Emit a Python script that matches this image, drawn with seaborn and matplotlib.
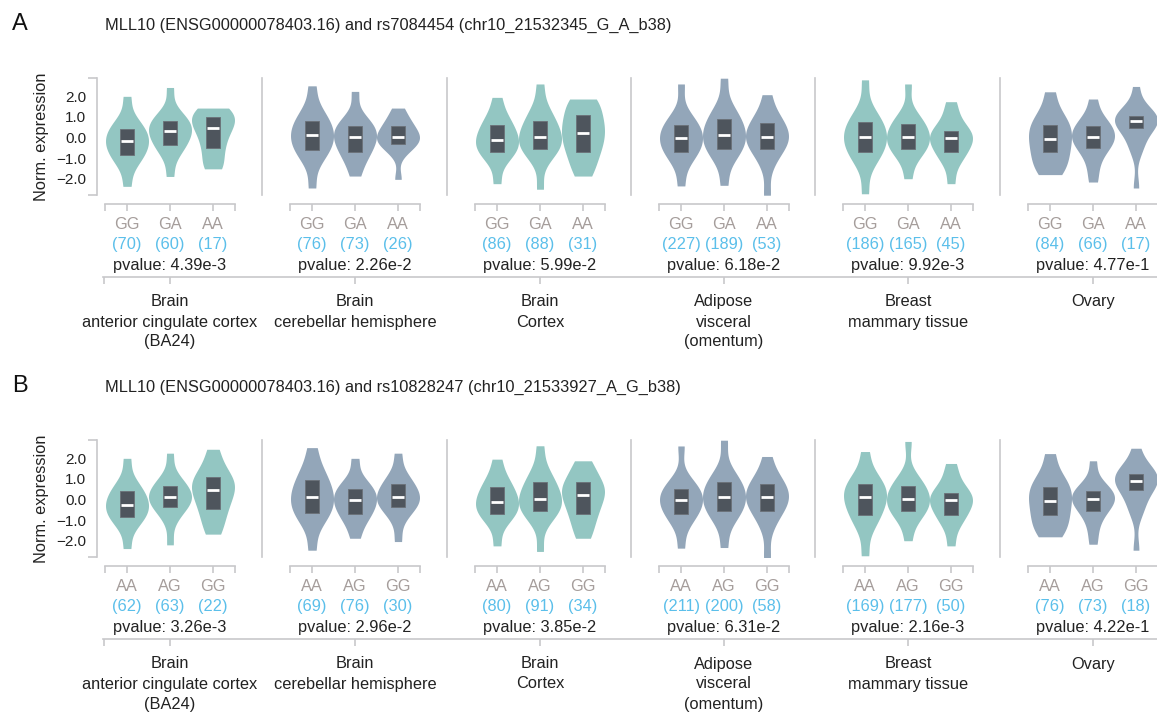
import numpy as np
import pandas as pd
import matplotlib
matplotlib.use("Agg")
import matplotlib.pyplot as plt
import matplotlib.transforms as mtransforms
import seaborn as sns

# ---------------- data ----------------
tissues = ["Brain\nanterior cingulate cortex\n(BA24)", "Brain\ncerebellar hemisphere",
           "Brain\nCortex", "Adipose\nvisceral\n(omentum)", "Breast\nmammary tissue", "Ovary"]

title_A = "MLL10 (ENSG00000078403.16) and rs7084454 (chr10_21532345_G_A_b38)"
title_B = "MLL10 (ENSG00000078403.16) and rs10828247 (chr10_21533927_A_G_b38)"
genotypes_A = ["GG", "GA", "AA"]
genotypes_B = ["AA", "AG", "GG"]

counts_A = [[70, 60, 17], [76, 73, 26], [86, 88, 31], [227, 189, 53], [186, 165, 45], [84, 66, 17]]
counts_B = [[62, 63, 22], [69, 76, 30], [80, 91, 34], [211, 200, 58], [169, 177, 50], [76, 73, 18]]
pvalues_A = ["4.39e-3", "2.26e-2", "5.99e-2", "6.18e-2", "9.92e-3", "4.77e-1"]
pvalues_B = ["3.26e-3", "2.96e-2", "3.85e-2", "6.31e-2", "2.16e-3", "4.22e-1"]

# box statistics (q1, median, q3) per tissue x genotype
q1_A = [[-0.84, -0.35, -0.53], [-0.60, -0.68, -0.32], [-0.68, -0.55, -0.68],
        [-0.68, -0.55, -0.55], [-0.71, -0.55, -0.71], [-0.71, -0.52, 0.47]]
med_A = [[-0.19, 0.31, 0.47], [0.10, 0.02, 0.03], [-0.11, 0.02, 0.23],
         [-0.03, 0.13, 0.02], [0.02, 0.02, -0.03], [-0.07, 0.02, 0.82]]
q3_A = [[0.42, 0.82, 1.01], [0.82, 0.58, 0.58], [0.61, 0.82, 1.10],
        [0.61, 0.90, 0.69], [0.74, 0.66, 0.34], [0.61, 0.58, 1.06]]

q1_B = [[-0.84, -0.34, -0.47], [-0.63, -0.68, -0.34], [-0.68, -0.55, -0.68],
        [-0.68, -0.55, -0.55], [-0.74, -0.55, -0.74], [-0.74, -0.55, 0.47]]
med_B = [[-0.26, 0.10, 0.47], [0.10, -0.03, 0.10], [-0.11, 0.02, 0.23],
         [-0.03, 0.13, 0.10], [0.10, 0.02, -0.03], [-0.06, 0.02, 0.91]]
q3_B = [[0.39, 0.66, 1.10], [0.95, 0.53, 0.74], [0.62, 0.83, 0.83],
        [0.53, 0.83, 0.74], [0.74, 0.66, 0.34], [0.62, 0.42, 1.26]]

# representative expression values (approximate quantiles) for each violin
exprA_acc = [[-2.37, -1.35, -1.03, -0.79, -0.57, -0.38, -0.19, -0.01, 0.17, 0.37, 0.60, 0.90, 2.00],
             [-1.89, -0.86, -0.54, -0.30, -0.08, 0.12, 0.31, 0.46, 0.61, 0.78, 0.97, 1.22, 2.43],
             [-1.52, -1.31, -0.82, -0.45, -0.12, 0.18, 0.47, 0.63, 0.79, 0.97, 1.17, 1.38, 1.43]]
exprA_cer = [[-2.45, -1.15, -0.80, -0.54, -0.31, -0.10, 0.10, 0.31, 0.52, 0.76, 1.03, 1.38, 2.51],
             [-1.87, -1.23, -0.88, -0.62, -0.39, -0.18, 0.02, 0.18, 0.35, 0.54, 0.74, 1.02, 2.24],
             [-2.03, -0.75, -0.45, -0.30, -0.18, -0.07, 0.03, 0.19, 0.35, 0.54, 0.74, 1.01, 1.43]]
exprA_ctx = [[-2.24, -1.12, -0.85, -0.63, -0.45, -0.28, -0.11, 0.10, 0.31, 0.55, 0.82, 1.17, 1.95],
             [-2.51, -1.00, -0.72, -0.50, -0.32, -0.15, 0.02, 0.25, 0.49, 0.76, 1.05, 1.44, 2.60],
             [-1.87, -1.39, -0.94, -0.61, -0.31, -0.03, 0.23, 0.48, 0.74, 1.03, 1.35, 1.78, 1.87]]
exprA_adi = [[-2.35, -1.19, -0.87, -0.63, -0.41, -0.22, -0.03, 0.16, 0.35, 0.56, 0.80, 1.11, 2.60],
             [-2.32, -1.08, -0.75, -0.50, -0.27, -0.07, 0.13, 0.35, 0.58, 0.84, 1.12, 1.50, 2.88],
             [-2.80, -1.40, -0.80, -0.52, -0.32, -0.15, 0.02, 0.21, 0.42, 0.64, 0.88, 1.21, 2.08]]
exprA_bre = [[-2.73, -1.28, -0.92, -0.65, -0.41, -0.19, 0.02, 0.23, 0.44, 0.68, 0.95, 1.30, 2.80],
             [-2.00, -1.00, -0.72, -0.50, -0.32, -0.15, 0.02, 0.21, 0.40, 0.61, 0.85, 1.16, 2.60],
             [-2.24, -1.24, -0.91, -0.66, -0.43, -0.23, -0.03, 0.10, 0.22, 0.36, 0.62, 1.15, 1.74]]
exprA_ova = [[-1.80, -1.55, -1.20, -0.90, -0.62, -0.35, -0.07, 0.18, 0.40, 0.64, 0.92, 1.30, 2.22],
             [-2.16, -1.40, -0.80, -0.50, -0.30, -0.14, 0.02, 0.18, 0.35, 0.54, 0.74, 1.02, 1.87],
             [-2.45, -0.55, -0.40, 0.30, 0.50, 0.65, 0.82, 0.90, 0.98, 1.06, 1.15, 1.35, 2.48]]

exprB_acc = [[-2.38, -1.29, -1.01, -0.79, -0.60, -0.43, -0.26, -0.07, 0.12, 0.34, 0.58, 0.90, 2.00],
             [-2.20, -1.00, -0.55, -0.32, -0.16, -0.03, 0.10, 0.26, 0.43, 0.62, 0.82, 1.10, 2.25],
             [-1.68, -1.20, -0.74, -0.39, -0.08, 0.20, 0.47, 0.65, 0.84, 1.05, 1.28, 1.75, 2.44]]
exprB_cer = [[-2.46, -1.20, -0.84, -0.57, -0.33, -0.11, 0.10, 0.35, 0.60, 0.88, 1.20, 1.61, 2.52],
             [-1.88, -1.19, -0.87, -0.63, -0.41, -0.22, -0.03, 0.13, 0.30, 0.49, 0.69, 0.97, 2.00],
             [-2.04, -0.95, -0.52, -0.32, -0.16, -0.03, 0.10, 0.29, 0.48, 0.69, 0.93, 1.24, 2.25]]
exprB_ctx = [[-2.25, -1.12, -0.85, -0.63, -0.45, -0.28, -0.11, 0.10, 0.31, 0.55, 0.82, 1.17, 1.96],
             [-2.52, -1.00, -0.72, -0.50, -0.32, -0.15, 0.02, 0.25, 0.49, 0.76, 1.05, 1.44, 2.61],
             [-1.88, -1.39, -0.94, -0.61, -0.31, -0.03, 0.23, 0.40, 0.58, 0.80, 1.05, 1.45, 1.88]]
exprB_adi = [[-2.36, -1.19, -0.87, -0.63, -0.41, -0.22, -0.03, 0.13, 0.30, 0.49, 0.69, 0.97, 2.60],
             [-2.33, -1.08, -0.75, -0.50, -0.27, -0.07, 0.13, 0.33, 0.54, 0.77, 1.03, 1.38, 2.88],
             [-2.82, -1.40, -0.80, -0.50, -0.28, -0.09, 0.10, 0.29, 0.48, 0.69, 0.93, 1.24, 2.09]]
exprB_bre = [[-2.73, -1.40, -0.98, -0.67, -0.40, -0.14, 0.10, 0.29, 0.48, 0.69, 0.93, 1.24, 2.33],
             [-2.00, -1.00, -0.72, -0.50, -0.32, -0.15, 0.02, 0.21, 0.40, 0.61, 0.85, 1.16, 2.82],
             [-2.25, -1.28, -0.94, -0.68, -0.45, -0.24, -0.03, 0.10, 0.22, 0.36, 0.62, 1.15, 1.75]]
exprB_ova = [[-1.81, -1.55, -1.20, -0.92, -0.64, -0.35, -0.06, 0.18, 0.40, 0.64, 0.92, 1.30, 2.23],
             [-2.17, -1.40, -0.82, -0.52, -0.32, -0.15, 0.02, 0.14, 0.26, 0.39, 0.56, 0.85, 1.88],
             [-2.46, -0.55, -0.40, 0.30, 0.52, 0.72, 0.91, 1.02, 1.12, 1.26, 1.40, 1.60, 2.49]]

y_ticks = [2.0, 1.0, 0.0, -1.0, -2.0]
y_tick_labels = ["2.0", "1.0", "0.0", "\u22121.0", "\u22122.0"]

# ---------------- style / layout ----------------
sns.set_theme(style="white")
plt.rcParams['font.family'] = ['Liberation Sans', 'DejaVu Sans']

W, H, DPI = 1157, 713, 100
PT = 72.0 / DPI
TEAL = "#93C6C2"
SLATE = "#93A6B9"
BOXC = "#4E555D"
BOXEDGE = "#6B7178"
AXC = "#C8C8CB"
GENO_C = "#A59D9B"
COUNT_C = "#5BBFEA"
TXT = "#222222"
group_colors = [TEAL, SLATE, TEAL, SLATE, TEAL, SLATE]
group_left = [105, 290, 475, 659, 843, 1028]
GW = 130
FS = 11.8

fig = plt.figure(figsize=(W / DPI, H / DPI), dpi=DPI)


def px_axes(x0, y0, x1, y1):
    return fig.add_axes([x0 / W, 1 - y1 / H, (x1 - x0) / W, (y1 - y0) / H])


def fy(y):
    return 1 - y / H


def draw_panel(dy, letter, title, genotypes, exprs, q1s, meds, q3s, counts, pvals):
    fig.text(12 / W, fy(29.5 + dy), letter, fontsize=17, ha='left', va='baseline', color='#111111')
    fig.text(105 / W, fy(30 + dy), title, fontsize=FS, ha='left', va='baseline', color=TXT)

    for g in range(6):
        left = group_left[g]
        ax = px_axes(left, 78 + dy, left + GW, 195 + dy)
        sizes = [len(v) for v in exprs[g]]
        df = pd.DataFrame({"genotype": np.repeat(genotypes, sizes),
                           "value": np.concatenate(exprs[g])})
        sns.violinplot(data=df, x="genotype", y="value", order=genotypes,
                       color=group_colors[g], saturation=1, inner=None, cut=0,
                       density_norm="width", width=1.0, bw_adjust=0.8,
                       linewidth=0, ax=ax)
        xs = np.arange(3)
        q1 = np.array(q1s[g]); q3 = np.array(q3s[g]); md = np.array(meds[g])
        ax.bar(xs, q3 - q1, bottom=q1, width=0.33, color=BOXC, edgecolor=BOXEDGE,
               zorder=3, linewidth=0.6)
        ax.hlines(md, xs - 0.15, xs + 0.15, color='white', lw=2.0, zorder=4)

        ax.set_xlim(-0.512, 2.512)
        ax.set_ylim(-2.79, 2.89)
        ax.set_xlabel("")
        ax.set_ylabel("")
        ax.set_facecolor("none")
        for s in ["top", "right"]:
            ax.spines[s].set_visible(False)

        # genotype axis (bottom)
        ax.spines["bottom"].set_position(("outward", 9 * PT))
        ax.spines["bottom"].set_color(AXC)
        ax.spines["bottom"].set_linewidth(1.2)
        ax.set_xticks([0, 1, 2], labels=["", "", ""])
        ax.set_xticks([-0.505, 2.505], minor=True)
        ax.tick_params(axis='x', which='both', direction='out', length=7 * PT,
                       width=1.2, color=AXC, bottom=True)

        # left spine: y-axis for first group, separators for the others
        ax.spines["left"].set_color(AXC)
        ax.spines["left"].set_linewidth(1.2)
        if g == 0:
            ax.spines["left"].set_position(("outward", 8 * PT))
            ax.set_yticks(y_ticks, labels=y_tick_labels)
            ax.set_yticks([-2.785, 2.885], minor=True)
            ax.tick_params(axis='y', which='major', length=0, pad=11 * PT,
                           labelsize=11, labelcolor=TXT)
            ax.tick_params(axis='y', which='minor', direction='out', length=9 * PT,
                           width=1.2, color=AXC, left=True)
            ax.set_ylabel("Norm. expression", fontsize=FS, color=TXT, labelpad=5)
        else:
            ax.spines["left"].set_position(("outward", 28 * PT))
            ax.set_yticks([])

        tr = mtransforms.blended_transform_factory(ax.transData, fig.transFigure)
        for i in range(3):
            ax.text(i, fy(229 + dy), genotypes[i], transform=tr, ha='center',
                    va='baseline', fontsize=FS, color=GENO_C)
            ax.text(i, fy(248.5 + dy), f"({counts[g][i]})", transform=tr, ha='center',
                    va='baseline', fontsize=FS, color=COUNT_C)
        ax.text(1, fy(270 + dy), f"pvalue: {pvals[g]}", transform=tr, ha='center',
                va='baseline', fontsize=FS, color=TXT)

    # tissue axis
    tax = px_axes(103, 268 + dy, 1175, 277 + dy)
    tax.set_facecolor("none")
    for s in ["top", "right", "left"]:
        tax.spines[s].set_visible(False)
    tax.spines["bottom"].set_color(AXC)
    tax.spines["bottom"].set_linewidth(1.2)
    centers = [l + GW / 2 for l in group_left]
    tax.set_xlim(103, 1175)
    tax.set_ylim(0, 1)
    tax.set_xticks(centers, labels=[""] * 6)
    tax.set_xticks([103.6], minor=True)
    tax.set_yticks([])
    tax.tick_params(axis='x', which='both', direction='out', length=7 * PT,
                    width=1.2, color=AXC, bottom=True)
    ttr = mtransforms.blended_transform_factory(tax.transData, fig.transFigure)
    for c, name in zip(centers, tissues):
        for k, line in enumerate(name.split("\n")):
            tax.text(c, fy(306.5 + 20 * k + dy), line, transform=ttr, ha='center',
                     va='baseline', fontsize=FS, color=TXT)


draw_panel(0, "A", title_A, genotypes_A,
           [exprA_acc, exprA_cer, exprA_ctx, exprA_adi, exprA_bre, exprA_ova],
           q1_A, med_A, q3_A, counts_A, pvalues_A)
draw_panel(362, "B", title_B, genotypes_B,
           [exprB_acc, exprB_cer, exprB_ctx, exprB_adi, exprB_bre, exprB_ova],
           q1_B, med_B, q3_B, counts_B, pvalues_B)

fig.savefig("out.png", dpi=DPI)
